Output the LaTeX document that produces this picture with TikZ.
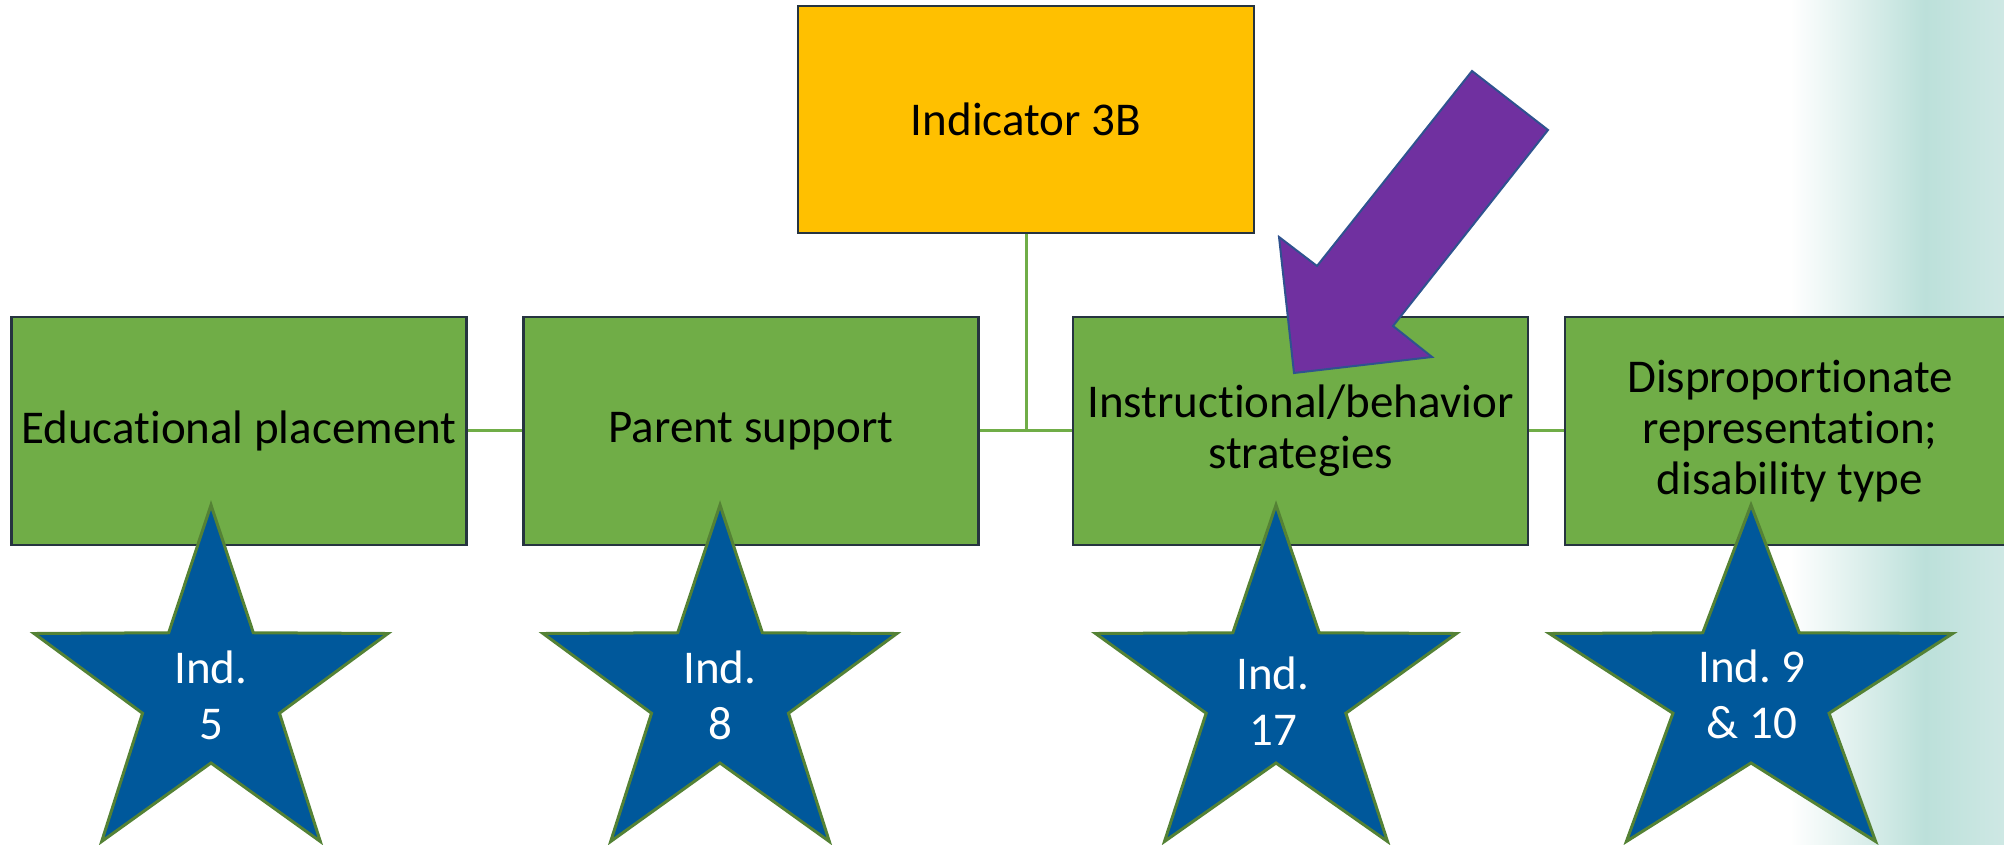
\documentclass[tikz,border=0pt]{standalone}
\usepackage{fontspec}
\setmainfont{Carlito}[RawFeature={-liga;-clig;-calt;-dlig}]
\usetikzlibrary{positioning}
\definecolor{boxgreen}{RGB}{112,173,71}
\definecolor{goldbox}{RGB}{255,192,0}
\definecolor{edgeblue}{RGB}{38,52,64}
\definecolor{starblue}{RGB}{0,88,155}
\definecolor{starrim}{RGB}{84,130,53}
\definecolor{arrowpurple}{RGB}{112,48,160}
\definecolor{arrowrim}{RGB}{47,82,143}
\definecolor{tealbg}{RGB}{188,224,218}
\definecolor{tealedge}{RGB}{206,232,228}
\newcommand{\bxf}{\fontsize{47}{51}\selectfont}
\newcommand{\stf}{\fontsize{47}{56}\selectfont}
\newcommand{\indstar}[2]{% #1 = centre, #2 = x stretch
  \begin{scope}[shift={#1}, xscale=#2]
    \filldraw[fill=starblue, draw=starrim, line width=3pt, line join=miter]
      (90:186) \foreach \k in {1,...,9} { -- ({90+36*\k}:{mod(\k,2)==1 ? 72 : 186}) } -- cycle;
  \end{scope}}
\frenchspacing

\begin{document}
\begin{tikzpicture}[
  x=1pt, y=1pt,
  box/.style={draw=edgeblue, line width=2.5pt, fill=boxgreen, minimum width=455pt, minimum height=228pt, inner sep=2pt, align=center, font=\bxf},
  link/.style={draw=boxgreen, line width=3pt},
  startext/.style={text=white, align=center, font=\stf, inner sep=0pt},
]
  \useasboundingbox (0,0) rectangle (2004,845);
  % ---------------- teal band on the right
  \shade[left color=white, right color=tealbg] (1790,0) rectangle (1925,845);
  \shade[left color=tealbg, right color=tealedge] (1925,0) rectangle (2004,845);

  % ---------------- boxes
  \node[box, fill=goldbox, minimum width=456pt, minimum height=227pt] (ind3b) at (1026,725.5) {Indicator 3B};
  \node[box] (edu) at (239,414) {Educational placement};
  \node[box] (parent) at (751,414) {Parent support};
  \node[box] (instr) at (1300.5,414) {Instructional/behavior\\strategies};
  \node[box, minimum width=450pt] (disp) at (1790,414) {Disproportionate\\representation;\\disability type};
  \foreach \a/\b in {edu/parent, parent/instr, instr/disp} \draw[link] (\a) -- (\b);
  \draw[link] (ind3b) -- (ind3b |- parent.east);

  % ---------------- stars
  \indstar{(211,154)}{1}
  \indstar{(720,154)}{1}
  \indstar{(1276,154)}{1.02}
  \indstar{(1751,154)}{1.14}
  \node[startext] (ind5) at (211,150) {Ind.\\5};
  \node[startext] (ind8) at (720,150) {Ind.\\8};
  \node[startext] (ind17) at (1273,144) {Ind.\\17};
  \node[startext] (ind910) at (1752,151) {Ind. 9\\\& 10};

  % ---------------- purple pointer
  \filldraw[fill=arrowpurple, draw=arrowrim, line width=2pt, line join=miter]
    (1472,774) -- (1548,715) -- (1393,519) -- (1432,488) -- (1294,472)
    -- (1279,608) -- (1317,579) -- cycle;
\end{tikzpicture}
\end{document}
